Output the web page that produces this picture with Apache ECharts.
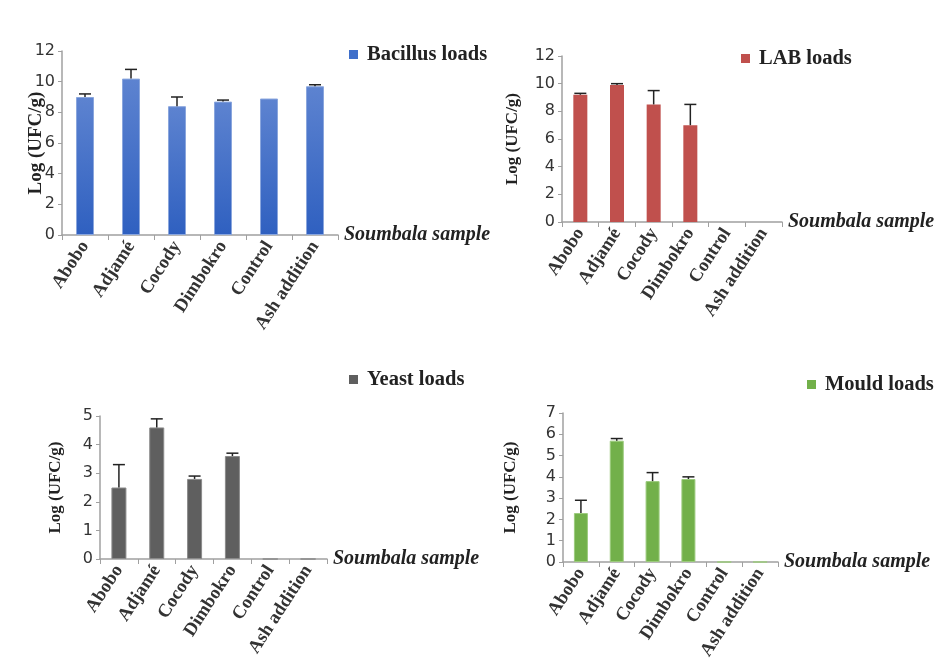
<!DOCTYPE html>
<html><head><meta charset="utf-8">
<script src="https://cdn.jsdelivr.net/npm/echarts@6/dist/echarts.min.js"></script>
<style>html,body{margin:0;padding:0;background:#fff}#c{width:944px;height:663px}</style>
</head><body><div id="c"></div>
<script>
const categories = ['Abobo', 'Adjamé', 'Cocody', 'Dimbokro', 'Control', 'Ash addition'];
const bacillus = [9.0, 10.2, 8.4, 8.7, 8.9, 9.7];
const bacillusErr = [9.2, 10.8, 9.0, 8.8, 8.9, 9.8];
const lab = [9.2, 9.9, 8.5, 7.0, 0, 0];
const labErr = [9.3, 10.0, 9.5, 8.5, 0, 0];
const yeast = [2.5, 4.6, 2.8, 3.6, 0, 0];
const yeastErr = [3.3, 4.9, 2.9, 3.7, 0, 0];
const mould = [2.3, 5.7, 3.8, 3.9, 0, 0];
const mouldErr = [2.9, 5.8, 4.2, 4.0, 0, 0];
const yTicks = [{max: 12, interval: 2}, {max: 12, interval: 2}, {max: 5, interval: 1}, {max: 7, interval: 1}];
const seriesNames = ['Bacillus loads', 'LAB loads', 'Yeast loads', 'Mould loads'];

const serif = '"Liberation Serif", "Times New Roman", serif';
const grids = [
  {left: 62, right: 606, top: 51, bottom: 428},
  {left: 562, right: 162, top: 56, bottom: 441},
  {left: 100, right: 617, top: 416, bottom: 104},
  {left: 563, right: 166, top: 413, bottom: 101}
];
const yNameGap = [16, 41, 36, 44];
const yNameSize = [19, 17, 17, 17];
const barWidths = [18, 14, 15, 14];
const colors = [
  new echarts.graphic.LinearGradient(0, 0, 0, 1, [{offset: 0, color: '#5d83d0'}, {offset: 1, color: '#2f60c0'}]),
  '#c0504d', '#5f5f5f', '#72b04a'
];
const borderColors = ['#8aa6dd', '#d28a88', '#8a8a8a', '#9ccb7d'];
const borderWidths = [1, 0, 1, 1];
const legendColors = ['#3f6fca', '#c0504d', '#5f5f5f', '#72b04a'];
const legendPos = [{left: 344, top: 39}, {left: 736, top: 43}, {left: 344, top: 364}, {left: 802, top: 369}];
const vals = [bacillus, lab, yeast, mould];
const errs = [bacillusErr, labErr, yeastErr, mouldErr];

const xAxis = [], yAxis = [], series = [], legend = [];
for (let i = 0; i < 4; i++) {
  xAxis.push({
    type: 'category', gridIndex: i, data: categories,
    name: 'Soumbala sample', nameLocation: 'end', nameGap: 6,
    nameTextStyle: {fontFamily: serif, fontStyle: 'italic', fontWeight: 'bold', fontSize: 20, color: '#222', verticalAlign: 'middle'},
    axisLine: {lineStyle: {color: '#a0a0a0', width: 1.5}},
    axisTick: {show: true, length: 5, lineStyle: {color: '#a0a0a0'}},
    axisLabel: {rotate: 57, interval: 0, margin: 8, fontFamily: serif, fontWeight: 'bold', fontSize: 18.5, color: '#333'}
  });
  yAxis.push({
    type: 'value', gridIndex: i, min: 0, max: yTicks[i].max, interval: yTicks[i].interval,
    name: 'Log (UFC/g)', nameLocation: 'middle', nameGap: yNameGap[i], nameMoveOverlap: false,
    nameTextStyle: {fontFamily: serif, fontWeight: 'bold', fontSize: yNameSize[i], color: '#222'},
    axisLine: {show: true, lineStyle: {color: '#a0a0a0', width: 1.5}},
    axisTick: {show: true, length: 4, lineStyle: {color: '#a0a0a0'}},
    splitLine: {show: false},
    axisLabel: {fontFamily: '"DejaVu Sans", sans-serif', fontSize: 16, color: '#333', margin: 7}
  });
  series.push({
    name: seriesNames[i], type: 'bar', xAxisIndex: i, yAxisIndex: i,
    data: vals[i], barWidth: barWidths[i],
    itemStyle: {color: colors[i], borderColor: borderColors[i], borderWidth: borderWidths[i]}, z: 2
  });
  const errData = categories.map((c, k) => [k, vals[i][k], errs[i][k]]);
  series.push({
    type: 'custom', xAxisIndex: i, yAxisIndex: i, data: errData, z: 3,
    renderItem: function (params, api) {
      const lo = api.value(1), hi = api.value(2);
      if (hi <= lo) return null;
      const p0 = api.coord([api.value(0), lo]);
      const p1 = api.coord([api.value(0), hi]);
      const hw = 6;
      return {type: 'group', children: [
        {type: 'line', shape: {x1: p0[0], y1: p0[1], x2: p1[0], y2: p1[1]}, style: {stroke: '#222', lineWidth: 1.5}},
        {type: 'line', shape: {x1: p1[0] - hw, y1: p1[1], x2: p1[0] + hw, y2: p1[1]}, style: {stroke: '#222', lineWidth: 1.5}}
      ]};
    }
  });
  legend.push({
    left: legendPos[i].left, top: legendPos[i].top,
    data: [{name: seriesNames[i], itemStyle: {color: legendColors[i], borderWidth: 0}}],
    icon: 'rect', itemWidth: 9, itemHeight: 9,
    itemStyle: {borderWidth: 0},
    textStyle: {fontFamily: serif, fontWeight: 'bold', fontSize: 20.5, color: '#222', padding: [0, 0, 0, 4]}
  });
}

const chart = echarts.init(document.getElementById('c'));
chart.setOption({
  animation: false,
  backgroundColor: '#fff',
  grid: grids,
  legend: legend,
  xAxis: xAxis,
  yAxis: yAxis,
  series: series
});
</script>
</body></html>
